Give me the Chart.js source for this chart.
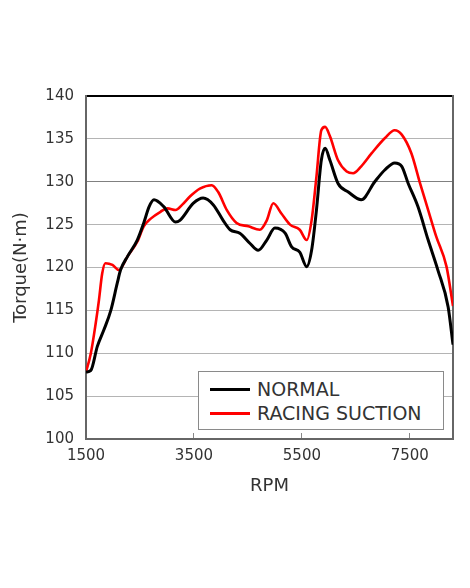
<!DOCTYPE html>
<html>
<head>
<meta charset="utf-8">
<script src="https://cdn.jsdelivr.net/npm/chart.js@4"></script>
<style>
  body { margin: 0; background: #fff; }
  #wrap { position: relative; width: 470px; height: 588px; }
  #legendBox {
    position: absolute; left: 198px; top: 371px; width: 244px; height: 57px;
    border: 1px solid #8a8a8a; background: #fff;
    font-family: "DejaVu Sans", sans-serif; font-size: 19px; color: #333;
  }
  .item { position: absolute; left: 11px; height: 22px; line-height: 22px; }
  .item span.swatch { position: absolute; left: 0; top: 10px; width: 40px; height: 3px; }
  .item span.label { position: absolute; left: 47px; top: 0; white-space: nowrap; }
</style>
</head>
<body>
<div id="wrap">
  <canvas id="torqueChart" width="470" height="588"></canvas>
  <div id="legendBox">
    <div class="item" style="top:6px"><span class="swatch" style="background:#000"></span><span class="label">NORMAL</span></div>
    <div class="item" style="top:30px"><span class="swatch" style="background:#ff0000"></span><span class="label">RACING SUCTION</span></div>
  </div>
</div>
<script>
let rpmNormal = [1500, 1590, 1710, 1830, 1960, 2080, 2140, 2270, 2450, 2570, 2670, 2760, 2940, 3160, 3240, 3490, 3670, 3860, 4040, 4170, 4350, 4540, 4690, 4850, 5000, 5190, 5310, 5460, 5590, 5680, 5770, 5860, 5930, 6020, 6170, 6360, 6600, 6850, 7040, 7220, 7350, 7470, 7650, 7840, 8020, 8210, 8300];
let torqueNormal = [107.8, 108.0, 110.8, 112.7, 115.0, 118.2, 119.7, 121.3, 123.2, 125.2, 127.1, 127.9, 127.1, 125.3, 125.5, 127.5, 128.1, 127.3, 125.5, 124.4, 124.0, 122.8, 122.0, 123.2, 124.6, 124.0, 122.4, 121.8, 120.1, 122.0, 126.7, 132.5, 133.9, 132.5, 129.8, 128.8, 127.9, 130.0, 131.4, 132.2, 131.8, 129.8, 127.1, 123.2, 119.7, 115.4, 111.0];

let rpmRacing = [1500, 1590, 1680, 1740, 1800, 1860, 1990, 2110, 2270, 2450, 2570, 2700, 2880, 3010, 3160, 3280, 3430, 3610, 3830, 3950, 4110, 4290, 4510, 4720, 4850, 4970, 5120, 5280, 5460, 5590, 5680, 5770, 5860, 5930, 6020, 6170, 6330, 6450, 6600, 6790, 7040, 7220, 7350, 7530, 7690, 7840, 7990, 8180, 8300];
let torqueRacing = [107.8, 110.0, 113.5, 116.2, 119.3, 120.5, 120.3, 119.7, 121.3, 123.0, 124.8, 125.7, 126.5, 126.9, 126.7, 127.3, 128.3, 129.2, 129.6, 128.8, 126.7, 125.2, 124.8, 124.4, 125.5, 127.5, 126.3, 125.0, 124.4, 123.2, 125.5, 130.6, 136.0, 136.4, 135.3, 132.5, 131.2, 131.0, 131.8, 133.3, 135.1, 136.0, 135.5, 133.3, 129.8, 126.7, 123.6, 120.1, 115.5];

let xTicks = [1500, 3500, 5500, 7500];
let yTicks = [100, 105, 110, 115, 120, 125, 130, 135, 140];

let tickFont = { family: 'DejaVu Sans', size: 15 };
let titleFont = { family: 'DejaVu Sans', size: 18 };

let ctx = document.getElementById('torqueChart').getContext('2d');

let config = {
    type : 'line',
    data : {
        datasets : [{
            label : 'NORMAL',
            data : rpmNormal.map((r, i) => ({x : r, y : torqueNormal[i]})),
            borderColor : '#000000',
            borderWidth : 3,
            pointRadius : 0,
            cubicInterpolationMode : 'monotone'
        }, {
            label : 'RACING SUCTION',
            data : rpmRacing.map((r, i) => ({x : r, y : torqueRacing[i]})),
            borderColor : '#ff0000',
            borderWidth : 2.6,
            pointRadius : 0,
            cubicInterpolationMode : 'monotone'
        }]
    },
    options : {
        responsive : false,
        animation : false,
        layout : { padding : { left : 11, top : 96, right : 17, bottom : 91 } },
        plugins : {
            legend : { display : false },
            tooltip : { enabled : false }
        },
        scales : {
            x : {
                type : 'linear',
                min : 1500,
                max : 8300,
                afterBuildTicks : axis => { axis.ticks = xTicks.map(v => ({value : v})); },
                afterFit : axis => { axis.height = 58; },
                grid : { drawOnChartArea : false, drawTicks : true, tickLength : -6, color : '#888' },
                border : { color : '#666', width : 2 },
                ticks : { font : tickFont, color : '#333', padding : 14, maxRotation : 0, callback : v => String(v) },
                title : { display : true, text : 'RPM', font : titleFont, color : '#333', padding : 0 }
            },
            y : {
                min : 100,
                max : 140,
                afterBuildTicks : axis => { axis.ticks = yTicks.map(v => ({value : v})); },
                afterFit : axis => { axis.width = 75; },
                grid : {
                    drawTicks : false,
                    color : c => c.tick.value === 140 ? '#000' : (c.tick.value === 130 ? '#808080' : '#b4b4b4'),
                    lineWidth : c => c.tick.value === 140 ? 2 : 1
                },
                border : { color : '#666', width : 2 },
                ticks : { font : tickFont, color : '#333', padding : 12 },
                title : { display : true, text : 'Torque(N·m)', font : titleFont, color : '#333', padding : 0 }
            },
            yRight : {
                position : 'right',
                min : 100,
                max : 140,
                afterFit : axis => { axis.width = 0; },
                grid : { drawOnChartArea : false, drawTicks : false },
                border : { color : '#666', width : 2 },
                ticks : { display : false }
            }
        }
    }
};

let chart = new Chart(ctx, config);
</script>
</body>
</html>
